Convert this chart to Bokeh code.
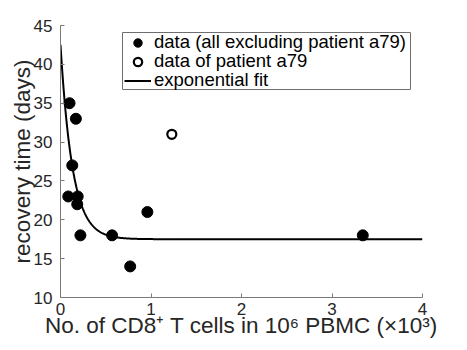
import numpy as np
from bokeh.plotting import figure
from bokeh.models import Range1d, Legend, LegendItem, FixedTicker, BoxAnnotation
from bokeh.embed import file_html
from bokeh.resources import INLINE

# data (all excluding patient a79)
cd8_x = [0.10, 0.17, 0.13, 0.086, 0.19, 0.185, 0.22, 0.57, 0.77, 0.96, 3.34]
recovery_y = [35, 33, 27, 23, 23, 22, 18, 18, 14, 21, 18]
# data of patient a79
a79_x = [1.23]
a79_y = [31]
# exponential fit parameters: y = a + b*exp(-k*x)
fit_a = 17.5
fit_b = 25.0
fit_k = 7.5
x_ticks = [0, 1, 2, 3, 4]
y_ticks = [10, 15, 20, 25, 30, 35, 40, 45]
legend_labels = ["data (all excluding patient a79)", "data of patient a79", "exponential fit"]

fit_x = np.linspace(0, 4, 801)
fit_y = fit_a + fit_b * np.exp(-fit_k * fit_x)

FONT = "Liberation Sans"
AX = "#7a7a7a"
TXT = "#262626"

p = figure(frame_width=362, frame_height=272, output_backend="svg",
           toolbar_location=None, x_range=Range1d(0, 4), y_range=Range1d(10, 45),
           min_border_left=60, min_border_top=25, min_border_right=30,
           min_border_bottom=10)
p.outline_line_color = None
p.xgrid.visible = False
p.ygrid.visible = False

r_fit = p.line(fit_x, fit_y, line_color="black", line_width=2)
r_data = p.scatter(cd8_x, recovery_y, size=11, fill_color="black", line_color="black")
r_a79 = p.scatter(a79_x, a79_y, size=9, fill_color=None, line_color="black", line_width=2.2)

for ax in (p.xaxis[0], p.yaxis[0]):
    ax.axis_line_color = AX
    ax.axis_line_width = 1
    ax.major_tick_line_color = AX
    ax.major_tick_in = 4
    ax.major_tick_out = 0
    ax.minor_tick_line_color = None
    ax.major_label_text_font = FONT
    ax.major_label_text_font_size = "17px"
    ax.major_label_text_color = TXT
    ax.axis_label_text_font = FONT
    ax.axis_label_text_font_style = "normal"
    ax.axis_label_text_color = TXT
    ax.axis_label_text_font_size = "22.5px"

p.xaxis.ticker = FixedTicker(ticks=x_ticks)
p.yaxis.ticker = FixedTicker(ticks=y_ticks)
p.xaxis.major_label_standoff = 5
p.yaxis.major_label_standoff = 8
p.xaxis.axis_label_standoff = -5
p.yaxis.axis_label_standoff = -4
p.xaxis.axis_label = "No. of CD8\u207a T cells in 10\u2076 PBMC (\u00d710\u00b3)"
p.yaxis.axis_label = "recovery time (days)"

# legend frame (screen units, relative to the plot frame)
box = BoxAnnotation(left=62, right=350, bottom=208, top=265,
                    left_units="screen", right_units="screen",
                    bottom_units="screen", top_units="screen",
                    fill_color="white", fill_alpha=1.0,
                    line_color="#6e6e6e", line_alpha=1.0, line_width=1)
p.add_layout(box)

rows = [(legend_labels[0], r_data, 244), (legend_labels[1], r_a79, 225), (legend_labels[2], r_fit, 206)]
for lab, rend, ypos in rows:
    lg = Legend(items=[LegendItem(label=lab, renderers=[rend])], location=(64, ypos))
    lg.label_text_font = FONT
    lg.label_text_font_size = "18.5px"
    lg.label_text_color = "black"
    lg.label_height = 18
    lg.glyph_height = 21
    lg.glyph_width = 27
    lg.label_standoff = 3
    lg.spacing = 0
    lg.padding = 0
    lg.margin = 0
    lg.border_line_color = None
    lg.background_fill_alpha = 0
    p.add_layout(lg)

open("out.html", "w").write(file_html(p, INLINE))
